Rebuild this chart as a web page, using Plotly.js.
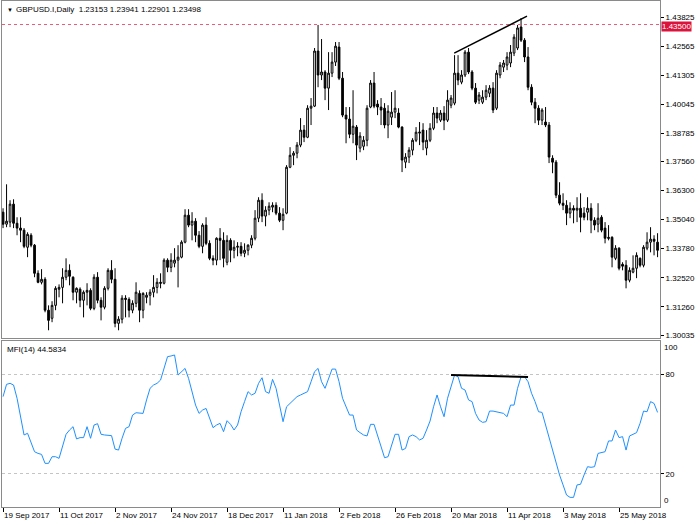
<!DOCTYPE html>
<html><head><meta charset="utf-8">
<script src="https://cdn.plot.ly/plotly-3.0.1.min.js"></script>
<style>html,body{margin:0;padding:0;background:#fff}#chart{width:700px;height:525px}</style>
</head><body><div id="chart"></div>
<script>
const openP = [1.3536,1.3484,1.3493,1.3571,1.3488,1.3467,1.3458,1.3384,1.3436,1.3393,
1.3271,1.3232,1.3245,1.3111,1.3076,1.3132,1.3202,1.3210,1.3254,1.3284,
1.3254,1.3189,1.3202,1.3154,1.3189,1.3197,1.3119,1.3254,1.3154,1.3124,
1.3206,1.3284,1.3245,1.3054,1.3072,1.3163,1.3158,1.3111,1.3141,1.3184,
1.3111,1.3167,1.3176,1.3189,1.3210,1.3232,1.3228,1.3328,1.3297,1.3315,
1.3328,1.3341,1.3406,1.3523,1.3480,1.3497,1.3436,1.3388,1.3480,1.3401,
1.3336,1.3328,1.3423,1.3414,1.3319,1.3414,1.3371,1.3384,1.3388,1.3358,
1.3371,1.3393,1.3423,1.3510,1.3588,1.3519,1.3545,1.3558,1.3566,1.3532,
1.3501,1.3532,1.3731,1.3783,1.3792,1.3827,1.3892,1.3861,1.3987,1.3996,
1.4235,1.4131,1.4144,1.4074,1.4139,1.4187,1.4252,1.4117,1.3957,1.3940,
1.3874,1.3905,1.3814,1.3822,1.3848,1.3992,1.4096,1.4005,1.3992,1.3987,
1.3914,1.3948,1.3970,1.3966,1.3905,1.3753,1.3775,1.3805,1.3848,1.3879,
1.3892,1.3814,1.3848,1.3900,1.3966,1.3935,1.3966,1.3935,1.4000,1.4009,
1.4139,1.4100,1.4131,1.4230,1.4144,1.4074,1.4022,1.4013,1.4035,1.4052,
1.4074,1.3987,1.4131,1.4165,1.4174,1.4183,1.4226,1.4248,1.4339,1.4282,
1.4209,1.4078,1.4013,1.3987,1.3935,1.3927,1.3914,1.3770,1.3753,1.3610,
1.3575,1.3566,1.3532,1.3553,1.3545,1.3553,1.3532,1.3536,1.3553,1.3501,
1.3484,1.3514,1.3467,1.3427,1.3427,1.3336,1.3380,1.3310,1.3306,1.3241,
1.3276,1.3293,1.3336,1.3306,1.3380,1.3406,1.3419,1.3406];
const highP = [1.3553,1.3657,1.3588,1.3592,1.3514,1.3514,1.3467,1.3449,1.3445,1.3398,
1.3284,1.3289,1.3254,1.3132,1.3150,1.3215,1.3223,1.3293,1.3336,1.3310,
1.3258,1.3210,1.3210,1.3197,1.3228,1.3206,1.3267,1.3276,1.3167,1.3215,
1.3293,1.3328,1.3293,1.3085,1.3176,1.3176,1.3167,1.3154,1.3232,1.3197,
1.3189,1.3189,1.3202,1.3263,1.3250,1.3271,1.3336,1.3336,1.3358,1.3380,
1.3393,1.3414,1.3549,1.3549,1.3536,1.3510,1.3454,1.3488,1.3514,1.3414,
1.3349,1.3427,1.3467,1.3449,1.3436,1.3423,1.3414,1.3406,1.3406,1.3401,
1.3397,1.3436,1.3545,1.3601,1.3618,1.3562,1.3579,1.3579,1.3579,1.3558,
1.3553,1.3740,1.3818,1.3801,1.3840,1.3944,1.3914,1.4000,1.4031,1.4248,
1.4348,1.4287,1.4152,1.4230,1.4230,1.4274,1.4274,1.4144,1.3992,1.3992,
1.4065,1.3914,1.3883,1.3866,1.4000,1.4109,1.4144,1.4022,1.4031,1.4009,
1.4000,1.4057,1.4065,1.3987,1.3909,1.3792,1.3818,1.3857,1.3905,1.3927,
1.3922,1.3892,1.3922,1.3992,1.3992,1.3979,1.3996,1.4065,1.4044,1.4217,
1.4217,1.4152,1.4239,1.4248,1.4152,1.4096,1.4057,1.4065,1.4087,1.4087,
1.4100,1.4152,1.4187,1.4196,1.4230,1.4261,1.4308,1.4348,1.4378,1.4291,
1.4252,1.4091,1.4031,1.4000,1.3987,1.3992,1.3927,1.3783,1.3762,1.3666,
1.3618,1.3588,1.3579,1.3566,1.3601,1.3618,1.3558,1.3601,1.3575,1.3514,
1.3575,1.3523,1.3493,1.3480,1.3432,1.3393,1.3384,1.3319,1.3328,1.3297,
1.3349,1.3362,1.3340,1.3393,1.3449,1.3471,1.3436,1.3445];
const lowP = [1.3467,1.3471,1.3471,1.3467,1.3436,1.3406,1.3380,1.3341,1.3384,1.3254,
1.3228,1.3223,1.3102,1.3024,1.3059,1.3111,1.3167,1.3141,1.3241,1.3219,
1.3154,1.3141,1.3124,1.3080,1.3132,1.3111,1.3111,1.3141,1.3067,1.3115,
1.3197,1.3228,1.3037,1.3024,1.3054,1.3080,1.3080,1.3098,1.3124,1.3059,
1.3076,1.3141,1.3132,1.3167,1.3184,1.3206,1.3223,1.3276,1.3276,1.3297,
1.3210,1.3336,1.3401,1.3471,1.3414,1.3406,1.3380,1.3358,1.3393,1.3328,
1.3306,1.3306,1.3328,1.3297,1.3306,1.3319,1.3336,1.3345,1.3345,1.3341,
1.3349,1.3380,1.3414,1.3493,1.3493,1.3475,1.3523,1.3536,1.3523,1.3493,
1.3458,1.3527,1.3727,1.3740,1.3770,1.3818,1.3840,1.3857,1.3914,1.3992,
1.4078,1.4109,1.4022,1.3979,1.4122,1.4170,1.4109,1.3948,1.3835,1.3857,
1.3835,1.3762,1.3796,1.3805,1.3822,1.3987,1.3987,1.3957,1.3914,1.3900,
1.3857,1.3914,1.3944,1.3900,1.3710,1.3727,1.3749,1.3783,1.3840,1.3827,
1.3805,1.3783,1.3840,1.3892,1.3922,1.3927,1.3892,1.3927,1.3987,1.4000,
1.4087,1.4091,1.4122,1.4135,1.4065,1.4005,1.4005,1.4005,1.4022,1.4035,
1.3966,1.3979,1.4117,1.4144,1.4152,1.4165,1.4213,1.4239,1.4274,1.4187,
1.4065,1.4000,1.3922,1.3914,1.3914,1.3905,1.3749,1.3705,1.3597,1.3566,
1.3545,1.3480,1.3510,1.3488,1.3493,1.3449,1.3501,1.3501,1.3445,1.3458,
1.3449,1.3449,1.3401,1.3414,1.3297,1.3328,1.3284,1.3284,1.3206,1.3232,
1.3271,1.3250,1.3297,1.3297,1.3371,1.3362,1.3349,1.3341];
const closeP = [1.3484,1.3497,1.3571,1.3488,1.3467,1.3458,1.3388,1.3440,1.3393,1.3271,
1.3232,1.3245,1.3111,1.3067,1.3132,1.3206,1.3210,1.3254,1.3284,1.3258,
1.3189,1.3206,1.3154,1.3189,1.3197,1.3119,1.3254,1.3154,1.3124,1.3206,
1.3284,1.3245,1.3054,1.3072,1.3163,1.3158,1.3111,1.3141,1.3189,1.3111,
1.3184,1.3176,1.3189,1.3210,1.3232,1.3228,1.3328,1.3297,1.3328,1.3328,
1.3341,1.3406,1.3523,1.3480,1.3497,1.3436,1.3388,1.3480,1.3401,1.3336,
1.3328,1.3423,1.3414,1.3336,1.3414,1.3371,1.3384,1.3388,1.3358,1.3371,
1.3393,1.3423,1.3510,1.3588,1.3519,1.3545,1.3562,1.3566,1.3532,1.3501,
1.3527,1.3731,1.3783,1.3792,1.3827,1.3892,1.3861,1.3987,1.3996,1.4235,
1.4131,1.4144,1.4074,1.4139,1.4187,1.4256,1.4117,1.3957,1.3940,1.3874,
1.3909,1.3827,1.3866,1.3848,1.3987,1.4096,1.3996,1.3992,1.3979,1.3914,
1.3974,1.3970,1.3987,1.3905,1.3762,1.3775,1.3805,1.3848,1.3883,1.3883,
1.3840,1.3848,1.3900,1.3966,1.3944,1.3966,1.3935,1.4022,1.4031,1.4139,
1.4109,1.4131,1.4230,1.4144,1.4074,1.4013,1.4044,1.4035,1.4065,1.4074,
1.3979,1.4139,1.4174,1.4183,1.4209,1.4230,1.4295,1.4335,1.4282,1.4209,
1.4078,1.4013,1.3987,1.3935,1.3979,1.3914,1.3775,1.3753,1.3610,1.3575,
1.3566,1.3532,1.3553,1.3545,1.3553,1.3514,1.3514,1.3553,1.3501,1.3480,
1.3510,1.3458,1.3423,1.3423,1.3341,1.3380,1.3293,1.3302,1.3241,1.3284,
1.3293,1.3349,1.3306,1.3384,1.3406,1.3419,1.3410,1.3371];
const mfi = [66.5,73.9,74.5,73.5,65.5,55.4,43.4,44.4,39.4,33.3,
32.3,31.7,26.3,26.3,30.3,30.3,29.3,36.3,43.8,46.4,
48.4,41.0,41.8,41.8,48.4,41.4,49.4,50.2,43.8,43.4,
43.4,43.0,34.9,34.3,41.4,47.4,48.4,55.4,56.8,56.8,
56.4,64.5,71.5,73.5,74.5,76.5,83.5,90.6,91.0,91.6,
79.5,81.5,83.5,77.5,69.5,61.4,56.4,58.4,59.4,53.8,
47.8,49.4,50.4,45.4,52.0,49.8,46.4,49.4,57.4,63.5,
69.5,67.5,68.5,74.5,77.9,69.5,68.5,76.9,71.5,61.4,
51.4,60.4,62.4,64.5,66.5,67.5,68.5,69.5,75.5,81.5,
83.5,75.5,71.5,77.5,83.1,83.1,75.5,65.5,60.4,55.4,
55.4,46.4,44.8,43.4,42.8,49.8,49.8,43.4,36.3,29.7,
30.3,37.3,43.8,43.8,34.3,35.3,42.4,43.4,42.4,40.4,
41.4,46.4,51.8,60.4,67.5,60.4,54.4,65.5,72.5,79.5,
78.5,71.5,70.5,64.5,63.5,56.4,52.4,51.0,51.4,57.8,
57.8,57.4,57.0,56.4,54.4,61.4,61.4,71.5,78.5,78.5,
75.5,68.5,63.5,57.4,57.0,49.4,41.4,34.3,26.3,19.3,
13.3,7.2,5.8,5.8,13.3,13.7,19.3,24.3,23.9,24.3,
32.3,32.9,33.3,39.8,39.8,46.4,41.8,42.4,34.3,42.8,
43.8,44.8,50.4,57.8,57.4,63.5,62.4,57.0];

const tickIdx = [0,16,32,48,64,80,96,112,128,144,160,176];
const tickText = ['19 Sep 2017','11 Oct 2017','2 Nov 2017','24 Nov 2017','18 Dec 2017','11 Jan 2018',
  '2 Feb 2018','26 Feb 2018','20 Mar 2018','11 Apr 2018','3 May 2018','25 May 2018'];
const priceTicks = [1.43825,1.42565,1.41305,1.40045,1.38785,1.37560,1.36300,1.35040,1.33780,1.32520,1.31260,1.30035];
const mfiLevels = [20, 80];
const alertLevel = 1.43500;
const priceTrendX = [128.9, 149.7];
const priceTrendY = [1.4226, 1.4386];
const mfiTrendX = [128, 150];
const mfiTrendY = [79.5, 78.3];
const titleText = 'GBPUSD.I,Daily  1.23153 1.23941 1.22901 1.23498';
const mfiText = 'MFI(14) 44.5834';

const bars = openP.map((_, i) => i);
const FONT = '"Liberation Sans", Arial, sans-serif';
const FRAME = '#8a8a8a';

const traces = [
  {type:'candlestick', x:bars, open:openP, high:highP, low:lowP, close:closeP,
   xaxis:'x', yaxis:'y', whiskerwidth:0, hoverinfo:'skip',
   increasing:{line:{color:'#000', width:1}, fillcolor:'#ffffff'},
   decreasing:{line:{color:'#000', width:1}, fillcolor:'#000000'}},
  {type:'scatter', mode:'lines', x:bars, y:mfi, xaxis:'x2', yaxis:'y2',
   line:{color:'#1e90ff', width:1}, hoverinfo:'skip'}
];

const xr = [-0.3, bars.length - 0.3];
const layout = {
  width:700, height:525, margin:{l:2, r:40, t:1, b:18},
  paper_bgcolor:'#fff', plot_bgcolor:'#fff', showlegend:false,
  font:{family:FONT, size:8, color:'#000'},
  xaxis:{domain:[0,1], anchor:'y', range:xr, showticklabels:false, ticks:'', showgrid:false,
    zeroline:false, showline:true, mirror:true, linecolor:FRAME, linewidth:1,
    rangeslider:{visible:false}, fixedrange:true},
  yaxis:{domain:[0.334,1], anchor:'x', side:'right', range:[1.29905,1.44519],
    tickvals:priceTicks, ticktext:priceTicks.map(v => v.toFixed(5)),
    ticks:'outside', ticklen:3, tickcolor:'#000', showgrid:false, zeroline:false,
    showline:true, mirror:true, linecolor:FRAME, linewidth:1, fixedrange:true},
  xaxis2:{domain:[0,1], anchor:'y2', range:xr, tickvals:tickIdx, ticktext:tickText,
    ticks:'outside', ticklen:4, tickcolor:'#000', ticklabelposition:'outside right',
    showgrid:false, zeroline:false, showline:true, mirror:true, linecolor:FRAME, linewidth:1, fixedrange:true},
  yaxis2:{domain:[0,0.328], anchor:'x2', side:'right', range:[0,100],
    tickvals:mfiLevels, ticktext:mfiLevels.map(String), ticks:'outside', ticklen:3, tickcolor:'#000',
    showgrid:true, gridcolor:'#c4c4c4', griddash:'dot', gridwidth:1, zeroline:false,
    showline:true, mirror:true, linecolor:FRAME, linewidth:1, fixedrange:true},
  shapes:[
    {type:'line', xref:'paper', x0:0, x1:1, yref:'y', y0:alertLevel, y1:alertLevel,
     line:{color:'#ee5a78', width:1, dash:'dot'}},
    {type:'line', xref:'x', yref:'y', x0:priceTrendX[0], x1:priceTrendX[1], y0:priceTrendY[0], y1:priceTrendY[1],
     line:{color:'#000', width:1.5}},
    {type:'line', xref:'x2', yref:'y2', x0:mfiTrendX[0], x1:mfiTrendX[1], y0:mfiTrendY[0], y1:mfiTrendY[1],
     line:{color:'#000', width:2}}
  ],
  annotations:[
    {xref:'paper', yref:'paper', x:0, y:1, xanchor:'left', yanchor:'top', xshift:3, yshift:-4,
     text:'▼', showarrow:false, font:{size:6, color:'#000'}},
    {xref:'paper', yref:'paper', x:0, y:1, xanchor:'left', yanchor:'top', xshift:12, yshift:-2,
     text:titleText, showarrow:false, font:{size:8, color:'#000'}},
    {xref:'paper', yref:'y2 domain', x:0, y:1, xanchor:'left', yanchor:'top', xshift:3, yshift:-2,
     text:mfiText, showarrow:false, font:{size:8, color:'#000'}},
    {xref:'paper', yref:'y', x:1, y:alertLevel, xanchor:'left', yanchor:'middle', xshift:1, yshift:-1.5,
     text:alertLevel.toFixed(5), showarrow:false, bgcolor:'#dc143c', borderpad:0,
     font:{size:8, color:'#fff'}},
    {xref:'paper', yref:'y2 domain', x:1, y:1, xanchor:'left', yanchor:'top', xshift:2, yshift:0,
     text:'100', showarrow:false, font:{size:8, color:'#000'}},
    {xref:'paper', yref:'y2 domain', x:1, y:0, xanchor:'left', yanchor:'bottom', xshift:2, yshift:0,
     text:'0', showarrow:false, font:{size:8, color:'#000'}}
  ]
};

Plotly.newPlot('chart', traces, layout, {staticPlot:true, displayModeBar:false});
</script>
</body></html>
